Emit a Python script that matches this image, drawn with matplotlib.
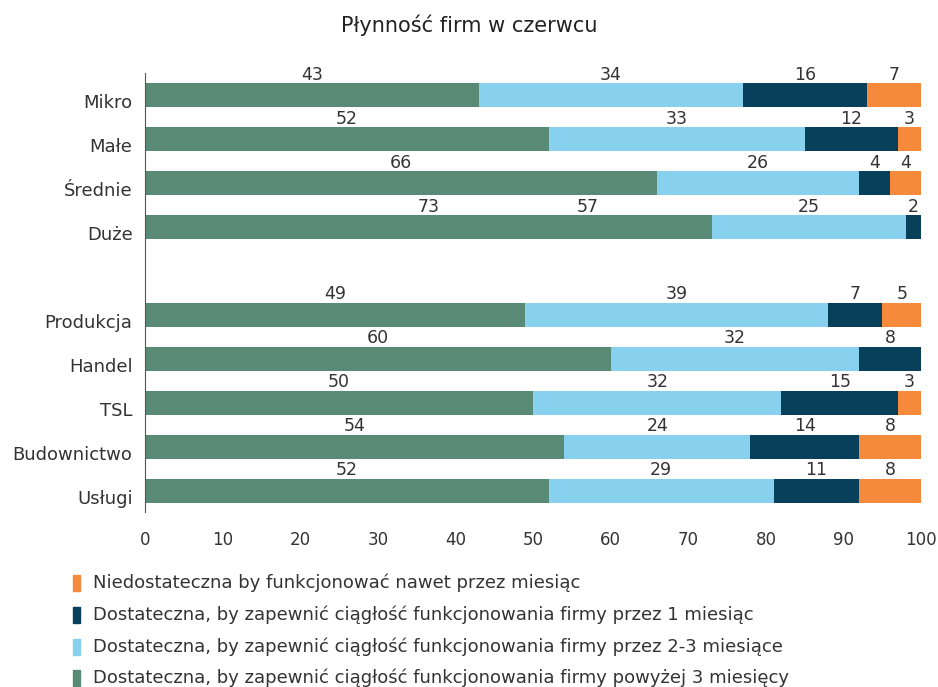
import matplotlib
matplotlib.use("Agg")
import matplotlib.pyplot as plt
import matplotlib.transforms as mtransforms
import numpy as np
from matplotlib.patches import Rectangle

plt.rcParams['font.family'] = ['DejaVu Sans']

#%% data
categories = ['Mikro', 'Małe', 'Średnie', 'Duże',
              'Produkcja', 'Handel', 'TSL', 'Budownictwo', 'Usługi']
# share of firms (%) per liquidity bucket
above_3m = [43, 52, 66, 73, 49, 60, 50, 54, 52]
two_3m = [34, 33, 26, 25, 39, 32, 32, 24, 29]
one_m = [16, 12, 4, 2, 7, 8, 15, 14, 11]
insufficient = [7, 3, 4, 0, 5, 0.3, 3, 8, 8]
# label printed over the "Duże" row with no bar of its own
duze_extra = 57

series_names = [
    'Dostateczna, by zapewnić ciągłość funkcjonowania firmy powyżej 3 miesięcy',
    'Dostateczna, by zapewnić ciągłość funkcjonowania firmy przez 2-3 miesiące',
    'Dostateczna, by zapewnić ciągłość funkcjonowania firmy przez 1 miesiąc',
    'Niedostateczna by funkcjonować nawet przez miesiąc',
]
colors = ['#588a76', '#88d1ee', '#083f5a', '#f68a3c']
txt_col = '#333333'

#%% plot
# empty slot between the size groups and the sector groups
ypos = np.array([0, 1, 2, 3, 5, 6, 7, 8, 9])
bar_h = 0.545

fig = plt.figure(figsize=(9.38, 6.87), dpi=100)
ax = fig.add_axes([0.1546, 0.2547, 0.8274, 0.639])

left = np.zeros(len(categories))
for vals, col in zip([above_3m, two_3m, one_m, insufficient], colors):
    vals = np.array(vals, dtype=float)
    ax.barh(ypos, vals, left=left, height=bar_h, color=col)
    for y, l, v in zip(ypos, left, vals):
        if v >= 1:
            ax.annotate(f'{v:.0f}', (l + v / 2, y - bar_h / 2), xytext=(0, 2.5),
                        textcoords='offset points', ha='center', va='baseline',
                        fontsize=12.5, color=txt_col)
    left += vals

ax.annotate(str(duze_extra), (duze_extra, ypos[3] - bar_h / 2), xytext=(0, 2.5),
            textcoords='offset points', ha='center', va='baseline',
            fontsize=12.5, color=txt_col)

ax.set_xlim(0, 100)
ax.set_ylim(9.48, -0.5)
ax.set_yticks(ypos)
ax.set_yticklabels(categories)
ax.set_xticks(range(0, 101, 10))
ax.tick_params(length=0, colors=txt_col)
ax.tick_params(axis='y', pad=9, labelsize=13)
ax.tick_params(axis='x', pad=14, labelsize=12)
# category names sit a bit below the bar centres
shift = mtransforms.ScaledTranslation(0, -6 / 100, fig.dpi_scale_trans)
for lab in ax.get_yticklabels():
    lab.set_transform(lab.get_transform() + shift)
for s in ['top', 'right', 'bottom']:
    ax.spines[s].set_visible(False)
ax.spines['left'].set_color('#555555')

fig.text(0.5, 1 - 25 / 687, 'Płynność firm w czerwcu', ha='center', va='center',
         fontsize=15, color='#222222')

# legend: small upright swatches with text, last series first
row_y = [583, 615, 647, 678]
for yy, name, col in zip(row_y, series_names[::-1], colors[::-1]):
    fy = 1 - yy / 687
    fig.patches.append(Rectangle((73 / 938, fy - 8 / 687), 7 / 938, 16 / 687,
                                 color=col, transform=fig.transFigure))
    fig.text(93 / 938, fy, name, ha='left', va='center', fontsize=13,
             color=txt_col)

fig.savefig('out.png', dpi=100)
